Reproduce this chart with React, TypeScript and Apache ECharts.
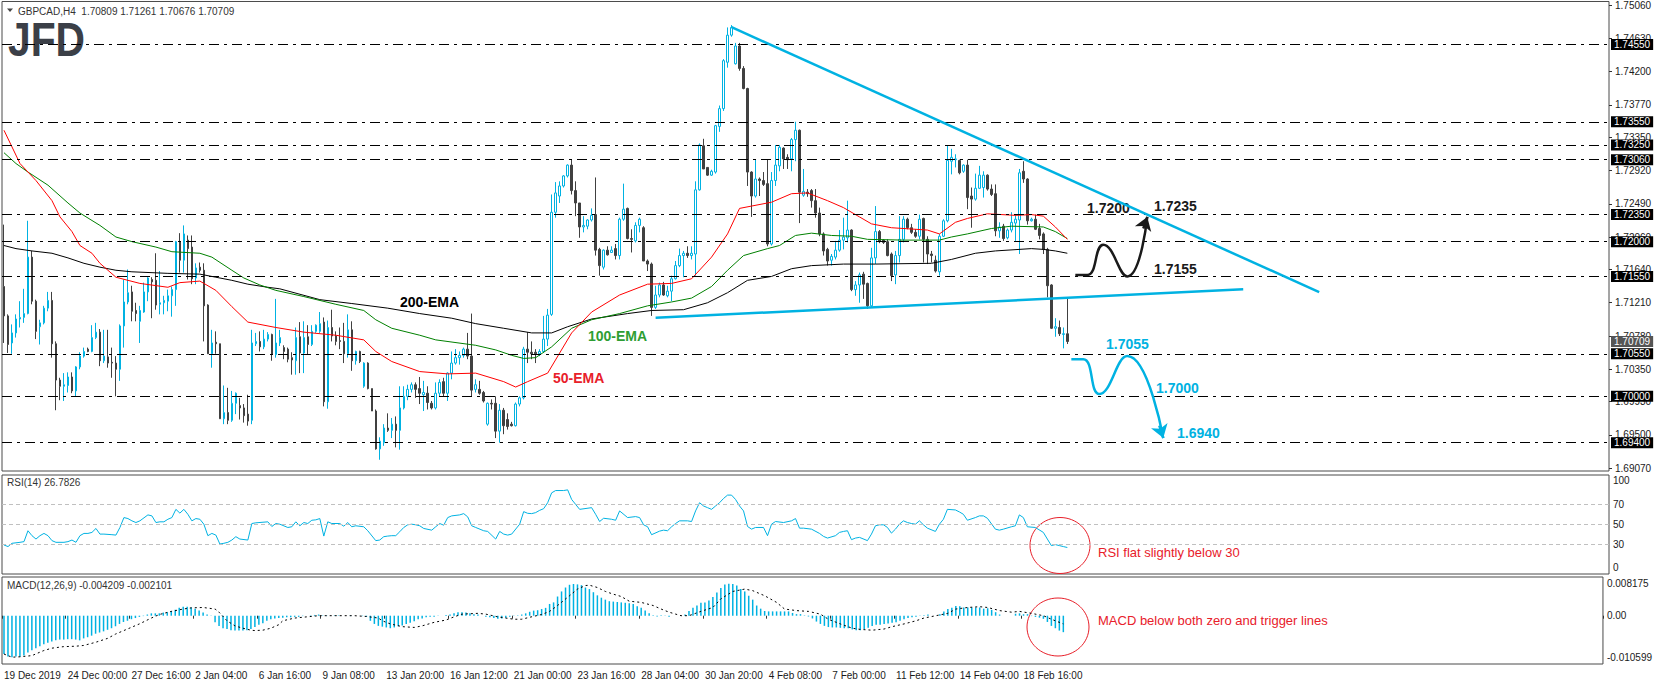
import React, { useEffect, useRef } from 'react';
import * as echarts from 'echarts';

const FONT = '"Liberation Sans", Arial, sans-serif';
const CYAN = '#00b2e2';
const DARK = '#404040';

// ---------- data ----------
const xTickLabels = ['19 Dec 2019', '24 Dec 00:00', '27 Dec 16:00', '2 Jan 04:00', '6 Jan 16:00', '9 Jan 08:00',
  '13 Jan 20:00', '16 Jan 12:00', '21 Jan 00:00', '23 Jan 16:00', '28 Jan 04:00', '30 Jan 20:00', '4 Feb 08:00',
  '7 Feb 00:00', '11 Feb 12:00', '14 Feb 04:00', '18 Feb 16:00'];
const barsPerLabel = 16;
const slotCount = 402;

// [open, close, low, high]
const candles = [
  [1.7142,1.7104,1.7069,1.7222],[1.7104,1.7067,1.7056,1.7106],[1.7069,1.7082,1.7055,1.7093],[1.7082,1.7100,1.7076,1.7106],
  [1.7100,1.7102,1.7089,1.7123],[1.7102,1.7107,1.7095,1.7139],[1.7107,1.7180,1.7106,1.7227],[1.7180,1.7123,1.7119,1.7188],
  [1.7123,1.7084,1.7074,1.7125],[1.7090,1.7095,1.7067,1.7099],[1.7095,1.7114,1.7093,1.7117],[1.7114,1.7124,1.7110,1.7135],
  [1.7124,1.7068,1.7050,1.7135],[1.7068,1.7021,1.6982,1.7071],[1.7021,1.7013,1.6995,1.7024],[1.7013,1.7015,1.6994,1.7030],
  [1.7014,1.7025,1.7005,1.7031],[1.7025,1.7007,1.7004,1.7031],[1.7007,1.7038,1.7000,1.7039],[1.7038,1.7052,1.7035,1.7057],
  [1.7052,1.7058,1.7050,1.7063],[1.7061,1.7058,1.7057,1.7063],[1.7058,1.7076,1.7057,1.7092],[1.7076,1.7083,1.7074,1.7095],
  [1.7083,1.7046,1.7039,1.7087],[1.7046,1.7052,1.7043,1.7086],[1.7051,1.7043,1.7037,1.7086],[1.7044,1.7043,1.7024,1.7063],
  [1.7043,1.7035,1.7000,1.7052],[1.7035,1.7091,1.7020,1.7093],[1.7091,1.7122,1.7063,1.7151],[1.7122,1.7134,1.7119,1.7164],
  [1.7135,1.7110,1.7097,1.7143],[1.7111,1.7107,1.7097,1.7121],[1.7097,1.7111,1.7069,1.7117],[1.7109,1.7135,1.7108,1.7147],
  [1.7135,1.7153,1.7123,1.7154],[1.7151,1.7148,1.7101,1.7154],[1.7150,1.7118,1.7112,1.7185],[1.7119,1.7121,1.7106,1.7162],
  [1.7121,1.7124,1.7106,1.7130],[1.7123,1.7130,1.7110,1.7138],[1.7130,1.7138,1.7103,1.7142],[1.7138,1.7200,1.7117,1.7201],
  [1.7200,1.7176,1.7160,1.7211],[1.7176,1.7210,1.7160,1.7221],[1.7202,1.7191,1.7151,1.7208],[1.7193,1.7152,1.7145,1.7208],
  [1.7153,1.7166,1.7145,1.7172],[1.7167,1.7163,1.7160,1.7173],[1.7163,1.7117,1.7071,1.7172],[1.7118,1.7055,1.7055,1.7119],
  [1.7055,1.7069,1.7037,1.7086],[1.7070,1.7068,1.7055,1.7084],[1.7068,1.6971,1.6971,1.7068],[1.6971,1.6979,1.6964,1.7014],
  [1.6979,1.6969,1.6964,1.7011],[1.6969,1.6991,1.6967,1.7007],[1.6991,1.7004,1.6977,1.7005],[1.6988,1.6985,1.6970,1.6998],
  [1.6985,1.6975,1.6966,1.6990],[1.6977,1.6968,1.6962,1.7002],[1.6969,1.7069,1.6964,1.7086],[1.7068,1.7071,1.7065,1.7082],
  [1.7071,1.7064,1.7058,1.7084],[1.7064,1.7074,1.7061,1.7086],[1.7074,1.7080,1.7071,1.7083],[1.7080,1.7054,1.7046,1.7081],
  [1.7054,1.7069,1.7050,1.7126],[1.7069,1.7076,1.7065,1.7086],[1.7063,1.7058,1.7048,1.7066],[1.7061,1.7048,1.7044,1.7063],
  [1.7050,1.7047,1.7028,1.7057],[1.7046,1.7076,1.7028,1.7089],[1.7077,1.7056,1.7030,1.7096],[1.7056,1.7076,1.7030,1.7097],
  [1.7077,1.7067,1.7054,1.7092],[1.7067,1.7084,1.7065,1.7092],[1.7084,1.7092,1.7082,1.7093],[1.7084,1.7094,1.7082,1.7109],
  [1.7096,1.6993,1.6987,1.7102],[1.6993,1.7089,1.6984,1.7098],[1.7089,1.7078,1.7071,1.7112],[1.7078,1.7071,1.7066,1.7084],
  [1.7072,1.7071,1.7061,1.7089],[1.7071,1.7055,1.7043,1.7095],[1.7055,1.7086,1.7050,1.7106],[1.7086,1.7046,1.7033,1.7097],
  [1.7046,1.7058,1.7041,1.7059],[1.7058,1.7045,1.7043,1.7059],[1.7013,1.7043,1.7011,1.7044],[1.7043,1.7010,1.7009,1.7044],
  [1.7010,1.6981,1.6981,1.7010],[1.6981,1.6932,1.6931,1.6983],[1.6932,1.6942,1.6918,1.6947],[1.6940,1.6959,1.6936,1.6964],
  [1.6959,1.6956,1.6954,1.6978],[1.6956,1.6964,1.6946,1.6972],[1.6964,1.6956,1.6934,1.6974],[1.6956,1.6985,1.6931,1.7013],
  [1.6985,1.7000,1.6983,1.7013],[1.7000,1.7009,1.6995,1.7015],[1.7009,1.7015,1.7005,1.7018],[1.7015,1.7009,1.6998,1.7018],
  [1.7010,1.7004,1.6990,1.7025],[1.7002,1.7005,1.6981,1.7020],[1.7004,1.6992,1.6983,1.7013],[1.6991,1.6985,1.6983,1.6994],
  [1.6985,1.7004,1.6983,1.7018],[1.7004,1.7018,1.7000,1.7022],[1.7019,1.7004,1.7000,1.7024],[1.7004,1.7030,1.6994,1.7031],
  [1.7030,1.7043,1.7022,1.7058],[1.7043,1.7050,1.7041,1.7061],[1.7050,1.7053,1.7041,1.7058],[1.7053,1.7061,1.7050,1.7063],
  [1.7061,1.7052,1.7048,1.7082],[1.7052,1.7008,1.7000,1.7107],[1.7009,1.7015,1.7005,1.7022],[1.7009,1.7004,1.7002,1.7020],
  [1.7005,1.6994,1.6992,1.7007],[1.6964,1.6991,1.6962,1.6992],[1.6991,1.6990,1.6983,1.6996],[1.6991,1.6955,1.6946,1.7000],
  [1.6955,1.6982,1.6940,1.6990],[1.6982,1.6962,1.6951,1.6985],[1.6970,1.6961,1.6957,1.6978],[1.6964,1.6962,1.6961,1.6967],
  [1.6962,1.6990,1.6961,1.6992],[1.6990,1.6998,1.6987,1.7000],[1.6998,1.7061,1.6996,1.7064],[1.7061,1.7057,1.7043,1.7083],
  [1.7057,1.7055,1.7048,1.7071],[1.7057,1.7055,1.7043,1.7061],[1.7055,1.7058,1.7052,1.7061],[1.7058,1.7074,1.7056,1.7104],
  [1.7074,1.7105,1.7065,1.7113],[1.7106,1.7238,1.7104,1.7261],[1.7238,1.7263,1.7231,1.7277],[1.7259,1.7272,1.7250,1.7278],
  [1.7272,1.7285,1.7270,1.7286],[1.7285,1.7299,1.7283,1.7300],[1.7299,1.7266,1.7261,1.7306],[1.7266,1.7250,1.7233,1.7278],
  [1.7250,1.7219,1.7205,1.7250],[1.7219,1.7221,1.7212,1.7233],[1.7220,1.7228,1.7216,1.7229],[1.7228,1.7234,1.7226,1.7243],
  [1.7235,1.7189,1.7182,1.7283],[1.7190,1.7169,1.7156,1.7192],[1.7167,1.7189,1.7164,1.7190],[1.7189,1.7183,1.7182,1.7194],
  [1.7186,1.7189,1.7186,1.7194],[1.7191,1.7182,1.7177,1.7197],[1.7182,1.7229,1.7177,1.7231],[1.7229,1.7242,1.7227,1.7275],
  [1.7243,1.7204,1.7203,1.7244],[1.7204,1.7203,1.7186,1.7216],[1.7201,1.7221,1.7199,1.7225],[1.7221,1.7229,1.7212,1.7231],
  [1.7218,1.7175,1.7175,1.7220],[1.7175,1.7171,1.7162,1.7177],[1.7171,1.7115,1.7104,1.7173],[1.7115,1.7131,1.7113,1.7143],
  [1.7131,1.7144,1.7128,1.7147],[1.7144,1.7131,1.7130,1.7148],[1.7130,1.7136,1.7128,1.7143],[1.7136,1.7152,1.7123,1.7156],
  [1.7152,1.7169,1.7151,1.7175],[1.7169,1.7182,1.7167,1.7191],[1.7182,1.7185,1.7154,1.7188],[1.7185,1.7182,1.7179,1.7194],
  [1.7182,1.7185,1.7177,1.7194],[1.7184,1.7267,1.7156,1.7278],[1.7267,1.7325,1.7266,1.7327],[1.7324,1.7294,1.7294,1.7333],
  [1.7296,1.7286,1.7285,1.7296],[1.7286,1.7291,1.7285,1.7293],[1.7290,1.7350,1.7288,1.7351],[1.7349,1.7372,1.7342,1.7376],
  [1.7372,1.7434,1.7369,1.7436],[1.7432,1.7467,1.7425,1.7477],[1.7467,1.7477,1.7465,1.7480],[1.7430,1.7453,1.7429,1.7457],
  [1.7453,1.7424,1.7421,1.7457],[1.7424,1.7398,1.7397,1.7427],[1.7398,1.7290,1.7272,1.7399],[1.7290,1.7259,1.7232,1.7291],
  [1.7259,1.7281,1.7257,1.7306],[1.7281,1.7279,1.7259,1.7283],[1.7279,1.7274,1.7272,1.7290],[1.7275,1.7197,1.7194,1.7306],
  [1.7197,1.7279,1.7195,1.7290],[1.7279,1.7299,1.7272,1.7325],[1.7298,1.7322,1.7291,1.7325],[1.7321,1.7307,1.7294,1.7322],
  [1.7309,1.7306,1.7294,1.7313],[1.7307,1.7332,1.7291,1.7334],[1.7332,1.7344,1.7304,1.7355],[1.7344,1.7264,1.7224,1.7345],
  [1.7260,1.7265,1.7258,1.7294],[1.7264,1.7262,1.7258,1.7268],[1.7266,1.7253,1.7244,1.7268],[1.7253,1.7237,1.7231,1.7268],
  [1.7237,1.7210,1.7207,1.7244],[1.7210,1.7188,1.7182,1.7212],[1.7190,1.7175,1.7169,1.7192],[1.7176,1.7181,1.7169,1.7184],
  [1.7180,1.7189,1.7177,1.7201],[1.7189,1.7202,1.7187,1.7215],[1.7202,1.7206,1.7190,1.7231],[1.7205,1.7215,1.7199,1.7253],
  [1.7215,1.7138,1.7136,1.7216],[1.7138,1.7144,1.7130,1.7149],[1.7144,1.7157,1.7121,1.7160],[1.7158,1.7145,1.7126,1.7161],
  [1.7146,1.7117,1.7113,1.7147],[1.7117,1.7179,1.7115,1.7192],[1.7179,1.7213,1.7171,1.7246],[1.7213,1.7200,1.7198,1.7215],
  [1.7202,1.7199,1.7197,1.7203],[1.7200,1.7182,1.7181,1.7203],[1.7184,1.7156,1.7149,1.7186],[1.7157,1.7182,1.7145,1.7188],
  [1.7182,1.7203,1.7173,1.7233],[1.7203,1.7229,1.7199,1.7233],[1.7229,1.7218,1.7216,1.7231],[1.7218,1.7212,1.7210,1.7223],
  [1.7212,1.7207,1.7205,1.7216],[1.7207,1.7229,1.7203,1.7235],[1.7230,1.7203,1.7173,1.7231],[1.7203,1.7184,1.7171,1.7207],
  [1.7184,1.7182,1.7173,1.7188],[1.7176,1.7162,1.7160,1.7182],[1.7161,1.7207,1.7156,1.7210],[1.7207,1.7227,1.7206,1.7229],
  [1.7227,1.7305,1.7225,1.7324],[1.7304,1.7309,1.7287,1.7320],[1.7306,1.7307,1.7296,1.7313],[1.7305,1.7289,1.7287,1.7306],
  [1.7291,1.7299,1.7289,1.7300],[1.7299,1.7257,1.7242,1.7306],[1.7259,1.7255,1.7218,1.7270],[1.7255,1.7269,1.7253,1.7288],
  [1.7269,1.7286,1.7268,1.7298],[1.7270,1.7286,1.7257,1.7291],[1.7286,1.7268,1.7266,1.7287],[1.7268,1.7261,1.7259,1.7274],
  [1.7262,1.7214,1.7207,1.7274],[1.7214,1.7219,1.7205,1.7225],[1.7220,1.7204,1.7201,1.7223],[1.7205,1.7215,1.7203,1.7217],
  [1.7215,1.7225,1.7212,1.7238],[1.7224,1.7229,1.7201,1.7235],[1.7228,1.7289,1.7184,1.7294],[1.7291,1.7281,1.7276,1.7304],
  [1.7281,1.7227,1.7222,1.7282],[1.7227,1.7229,1.7226,1.7231],[1.7229,1.7216,1.7215,1.7235],[1.7217,1.7208,1.7203,1.7223],
  [1.7210,1.7190,1.7184,1.7212],[1.7190,1.7143,1.7128,1.7192],[1.7144,1.7088,1.7087,1.7145],[1.7088,1.7090,1.7077,1.7101],
  [1.7089,1.7081,1.7078,1.7098],[1.7080,1.7081,1.7062,1.7089],[1.70809,1.70709,1.70676,1.71261],
];

// [bar, value]
const ema50 = [[0,1.7344],[4,1.7301],[8,1.7279],[12,1.7253],[14,1.7232],[17,1.7213],[19,1.7195],[22,1.7185],[24,1.7172],
  [28,1.7154],[34,1.7146],[41,1.7141],[44,1.7147],[49,1.7149],[53,1.7137],[57,1.7116],[61,1.7096],[68,1.7089],[75,1.7083],
  [83,1.7079],[90,1.7073],[93,1.7058],[97,1.7045],[104,1.7032],[111,1.7029],[118,1.7030],[125,1.7019],[128,1.7012],
  [131,1.7019],[136,1.7030],[142,1.7082],[147,1.7109],[154,1.7131],[161,1.7145],[167,1.7146],[172,1.7152],[177,1.7180],
  [181,1.7210],[184,1.7243],[187,1.7246],[192,1.7251],[197,1.7262],[201,1.7263],[206,1.7253],[210,1.7244],[214,1.7232],
  [217,1.7223],[222,1.7218],[231,1.7215],[234,1.7210],[238,1.7225],[241,1.7230],[246,1.7236],[253,1.7234],[257,1.7235],
  [260,1.7233],[263,1.7219],[266,1.7203]];
const ema100 = [[0,1.7315],[3,1.7301],[6,1.7290],[11,1.7273],[16,1.7250],[19,1.7237],[24,1.7221],[28,1.7206],[32,1.7200],
  [38,1.7193],[42,1.7187],[49,1.7185],[52,1.7180],[57,1.7163],[60,1.7153],[64,1.7144],[68,1.7137],[75,1.7129],[83,1.7119],
  [90,1.7111],[93,1.7099],[97,1.7088],[104,1.7079],[108,1.7073],[118,1.7066],[123,1.7060],[127,1.7053],[130,1.7049],
  [133,1.7050],[137,1.7064],[142,1.7088],[147,1.7099],[154,1.7107],[161,1.7117],[167,1.7122],[172,1.7127],[177,1.7142],
  [181,1.7163],[185,1.7182],[191,1.7191],[194,1.7195],[198,1.7208],[202,1.7211],[207,1.7208],[212,1.7207],[216,1.7203],
  [225,1.7202],[234,1.7202],[237,1.7206],[241,1.7210],[247,1.7217],[252,1.7220],[260,1.7219],[263,1.7213],[266,1.7204]];
const ema200 = [[0,1.7195],[3,1.7191],[7,1.7188],[12,1.7185],[16,1.7179],[20,1.7172],[24,1.7167],[28,1.7163],[32,1.7161],
  [41,1.7159],[49,1.7158],[53,1.7154],[57,1.7150],[61,1.7145],[66,1.7141],[69,1.7139],[79,1.7125],[87,1.7120],[96,1.7114],
  [104,1.7107],[112,1.7101],[118,1.7094],[125,1.7088],[132,1.7082],[137,1.7082],[141,1.7090],[147,1.7100],[156,1.7107],
  [162,1.7111],[170,1.7112],[176,1.7121],[181,1.7134],[186,1.7150],[192,1.7155],[197,1.7165],[202,1.7169],[210,1.7171],
  [218,1.7171],[232,1.7172],[237,1.7177],[243,1.7185],[248,1.7188],[257,1.7191],[260,1.7190],[263,1.7188],[266,1.7185]];

const rsi = [[0,29.3],[1,27.7],[2,31.0],[4,32.0],[5,32.7],[6,43.7],[7,38.7],[8,35.3],[9,38.7],[10,41.0],[11,38.7],[12,33.7],
  [13,32.0],[15,32.0],[16,32.7],[17,34.3],[18,32.0],[19,38.7],[20,41.0],[21,41.0],[22,42.0],[23,46.0],[24,40.3],[25,40.3],
  [27,39.7],[28,39.3],[29,47.0],[30,57.0],[31,56.0],[32,53.7],[33,52.0],[34,53.7],[36,59.7],[37,58.7],[38,52.0],[39,52.7],
  [40,52.7],[41,55.3],[42,57.0],[43,65.3],[44,61.5],[45,65.3],[46,60.3],[47,53.7],[48,56.0],[49,55.3],[50,50.3],[51,38.7],
  [52,41.0],[53,39.3],[54,30.3],[55,31.0],[56,32.0],[57,34.3],[58,37.7],[59,35.3],[61,34.3],[62,51.0],[63,51.7],[66,52.7],
  [67,48.0],[68,51.0],[69,50.3],[71,47.0],[72,47.7],[73,52.7],[74,48.7],[75,52.0],[76,51.0],[77,54.3],[78,54.7],[79,56.0],
  [80,38.3],[81,52.7],[82,51.0],[84,51.0],[85,48.3],[86,52.0],[87,47.7],[88,48.7],[90,47.7],[91,43.7],[93,33.7],[94,34.3],
  [95,37.7],[96,38.3],[97,38.7],[98,38.7],[99,42.7],[100,47.0],[101,49.7],[102,50.3],[103,49.7],[104,48.7],[105,46.0],
  [107,44.3],[108,47.7],[109,51.0],[110,49.3],[111,57.0],[112,58.7],[114,59.7],[115,61.0],[116,57.7],[117,48.7],[118,47.0],
  [120,43.7],[121,43.0],[123,35.3],[124,43.0],[125,40.3],[126,39.3],[127,40.3],[129,50.3],[130,63.0],[131,61.3],[132,61.0],
  [133,62.0],[134,64.3],[135,66.0],[136,72.0],[137,82.0],[138,84.3],[140,84.3],[141,85.0],[142,75.3],[143,70.3],[144,65.3],
  [147,67.0],[148,60.3],[149,53.0],[150,56.3],[152,55.3],[153,54.3],[154,63.7],[156,57.0],[158,58.0],[159,57.0],[160,49.7],
  [161,47.7],[162,39.7],[164,43.3],[165,44.3],[166,43.7],[167,47.7],[168,51.0],[169,53.7],[171,53.7],[172,53.0],[173,63.7],
  [174,72.0],[175,68.7],[176,67.0],[177,65.3],[178,68.7],[179,72.0],[180,76.3],[181,79.7],[182,79.7],[183,75.3],[184,68.7],
  [185,63.7],[186,48.0],[187,45.3],[188,47.0],[190,47.0],[191,38.7],[192,50.3],[193,53.0],[195,52.0],[197,53.7],[198,56.0],
  [199,46.3],[200,46.3],[202,45.3],[204,41.0],[205,38.0],[206,36.3],[208,38.7],[209,42.0],[210,43.0],[211,43.7],[212,34.7],
  [213,36.3],[214,37.0],[216,33.7],[217,40.3],[218,48.7],[219,49.7],[220,49.7],[221,47.0],[222,41.3],[223,45.3],[224,50.3],
  [225,53.7],[226,52.0],[227,51.0],[228,50.3],[229,53.7],[230,49.7],[231,46.3],[233,43.0],[234,50.3],[235,55.3],[236,65.3],
  [238,64.7],[239,62.7],[240,60.3],[241,54.3],[243,57.0],[244,58.7],[245,58.7],[246,56.3],[248,45.3],[249,44.3],[250,45.3],
  [252,47.7],[253,48.7],[254,59.7],[255,57.0],[256,47.7],[258,47.0],[260,42.0],[261,35.3],[262,28.7],[263,29.7],[264,28.7],
  [265,27.7],[266,26.7826]];

const macdHist = [
  -0.0098,-0.0104,-0.010599,-0.0104,-0.0105,-0.0102,-0.0094,-0.0088,-0.0083,-0.0078,-0.0073,-0.0069,-0.0066,-0.0063,
  -0.0061,-0.0061,-0.0060,-0.0060,-0.0061,-0.0063,-0.0058,-0.0055,-0.0051,-0.0046,-0.0043,-0.0040,-0.0036,-0.0032,
  -0.0027,-0.0021,-0.0016,-0.0013,-0.0009,-0.0006,-0.0003,-0.0001,0.0003,0.0006,0.0006,0.0006,0.0008,0.0009,0.0012,
  0.0015,0.0020,0.0023,0.0023,0.0021,0.0018,0.0013,0.0008,0.0003,-0.0001,-0.0017,-0.0026,-0.0032,-0.0034,-0.0037,
  -0.0038,-0.0038,-0.0038,-0.0037,-0.0034,-0.0029,-0.0023,-0.0019,-0.0013,-0.0009,-0.0007,-0.0006,-0.0005,-0.0004,
  -0.0004,-0.0003,-0.0003,-0.0001,0.0000,0.0001,0.0002,0.0003,0.0001,-0.0001,0.0000,0.0001,0.0001,0.0000,0.0000,
  -0.0001,0.0000,0.0000,-0.0001,-0.0003,-0.0013,-0.0021,-0.0026,-0.0028,-0.0030,-0.0032,-0.0030,-0.0027,-0.0025,
  -0.0021,-0.0018,-0.0014,-0.0009,-0.0007,-0.0004,-0.0003,-0.0003,-0.0001,0.0000,0.0002,0.0003,0.0006,0.0009,0.0009,
  0.0008,0.0006,0.0004,0.0003,0.0000,-0.0003,-0.0004,-0.0006,-0.0008,-0.0007,-0.0005,-0.0003,-0.0001,0.0001,0.0003,
  0.0006,0.0010,0.0013,0.0014,0.0017,0.0020,0.0030,0.0034,0.0049,0.0062,0.0072,0.0079,0.0081,0.0080,0.0078,0.0072,
  0.0068,0.0060,0.0052,0.0046,0.0041,0.0037,0.0036,0.0035,0.0034,0.0033,0.0032,0.0030,0.0024,0.0020,0.0013,0.0006,
  0.0001,-0.0002,0.0001,-0.0001,-0.0003,0.0000,0.0000,0.0000,0.0003,0.0012,0.0020,0.0026,0.0033,0.0034,0.0039,0.0048,
  0.0059,0.0071,0.0080,0.008175,0.0081,0.0077,0.0068,0.0062,0.0051,0.0041,0.0026,0.0018,0.0012,0.0011,0.0011,0.0011,
  0.0011,0.0011,0.0011,0.0007,0.0004,0.0004,0.0001,-0.0002,-0.0007,-0.0015,-0.0021,-0.0026,-0.0029,-0.0030,-0.0030,
  -0.0031,-0.0032,-0.0032,-0.0035,-0.0037,-0.0037,-0.0034,-0.0031,-0.0026,-0.0023,-0.0023,-0.0021,-0.0020,-0.0018,
  -0.0017,-0.0013,-0.0009,-0.0006,-0.0004,-0.0003,-0.0001,0.0001,0.0003,0.0000,0.0000,0.0004,0.0011,0.0017,0.0020,
  0.0025,0.0024,0.0021,0.0021,0.0021,0.0021,0.0021,0.0018,0.0019,0.0015,0.0009,0.0003,0.0000,0.0000,0.0000,0.0005,
  0.0006,0.0004,0.0004,-0.0001,-0.0003,-0.0005,-0.0008,-0.0016,-0.0026,-0.0032,-0.0038,-0.004209,
];
const macdSignal = [[0,-0.0098],[2,-0.0106],[4,-0.0105],[7,-0.0102],[10,-0.0089],[12,-0.0083],[15,-0.0079],[18,-0.0078],
  [20,-0.0076],[23,-0.0068],[26,-0.0058],[28,-0.0047],[31,-0.0034],[34,-0.0021],[37,-0.0006],[39,0.0003],[42,0.0011],
  [45,0.0017],[47,0.0020],[50,0.0021],[53,0.0017],[54,0.0009],[56,-0.0013],[58,-0.0026],[60,-0.0032],[62,-0.0037],
  [63,-0.0038],[65,-0.0037],[67,-0.0032],[69,-0.0023],[70,-0.0013],[73,-0.0006],[76,-0.0003],[79,0.0000],[84,0.0000],
  [88,0.0000],[91,-0.0002],[94,-0.0006],[95,-0.0013],[97,-0.0021],[100,-0.0028],[103,-0.0030],[105,-0.0026],[108,-0.0017],
  [111,-0.0011],[113,-0.0003],[115,0.0004],[119,0.0006],[121,0.0004],[124,-0.0003],[128,-0.0009],[130,-0.0009],
  [132,-0.0004],[135,0.0003],[137,0.0011],[139,0.0026],[142,0.0051],[144,0.0068],[146,0.0077],[147,0.0078],[149,0.0072],
  [151,0.0062],[153,0.0055],[155,0.0049],[157,0.0037],[160,0.0034],[163,0.0026],[165,0.0017],[167,0.0009],[170,0.0000],
  [172,0.0000],[175,0.0011],[178,0.0021],[180,0.0043],[183,0.0062],[186,0.0068],[188,0.0064],[191,0.0051],[194,0.0034],
  [196,0.0017],[199,0.0013],[202,0.0011],[205,0.0004],[207,-0.0009],[210,-0.0021],[213,-0.0032],[215,-0.0035],
  [218,-0.0037],[221,-0.0034],[223,-0.0028],[226,-0.0021],[229,-0.0013],[231,-0.0006],[234,0.0000],[237,0.0006],
  [239,0.0017],[242,0.0021],[245,0.0023],[247,0.0021],[250,0.0013],[253,0.0009],[255,0.0011],[258,0.0006],[261,0.0000],
  [263,-0.0009],[266,-0.002101]];

const levels = [1.7455, 1.7355, 1.7325, 1.7306, 1.7235, 1.7200, 1.7155, 1.7055, 1.7000, 1.6940];
const lastPrice = 1.70709;
const priceTicks = [1.7506, 1.7463, 1.742, 1.7377, 1.7335, 1.7292, 1.7249, 1.7206, 1.7164, 1.7121, 1.7078, 1.7035,
  1.6993, 1.695, 1.6907];
const rsiTicks = [100, 70, 50, 30, 0];
const rsiLevels = [70, 50, 30];
const macdTicks = [0.008175, 0, -0.010599];

const resistanceLine = [[182, 1.74773], [329, 1.71347]];
const necklineLine = [[163, 1.71015], [310, 1.71385]];
const bullPath = [[268, 1.7157], [271, 1.7157], [275, 1.7196], [281, 1.7155], [286, 1.7232]];
const bullArrow = [[285, 1.7217], [286, 1.7232]];
const bearPath = [[267, 1.7048], [270, 1.7048], [274, 1.7003], [281, 1.7052], [290, 1.6946]];
const bearArrow = [[289, 1.6962], [290, 1.6946]];

// ---------- component ----------
export default function App() {
  const ref = useRef<HTMLDivElement>(null);

  useEffect(() => {
    if (!ref.current) return;
    const chart = echarts.init(ref.current, undefined, { renderer: 'svg' });
    const categories = Array.from({ length: slotCount }, (_, i) => 'b' + i);
    const isLabelSlot = (i: number) => i % barsPerLabel === 0 && i / barsPerLabel < xTickLabels.length;
    const small = { fontFamily: FONT, fontSize: 10, color: '#1a1a1a' };
    const gridBase = { left: 2, width: 1607, show: true, borderColor: '#4a4a4a', borderWidth: 1, backgroundColor: 'transparent' };

    const xAxisBase = (gi: number, showLabels: boolean) => ({
      type: 'category', gridIndex: gi, data: categories, boundaryGap: true,
      axisLine: { show: false },
      axisTick: { show: showLabels, interval: (i: number) => isLabelSlot(i), length: 3, lineStyle: { color: '#333' } },
      axisLabel: {
        show: showLabels, interval: (i: number) => isLabelSlot(i), align: 'left', margin: 6, ...small,
        formatter: (_v: string, i: number) => (isLabelSlot(i) ? xTickLabels[i / barsPerLabel] : ''),
      },
      splitLine: { show: false },
    });

    const dashDot = [10, 5, 3, 5];

    const option: any = {
      animation: false,
      backgroundColor: '#ffffff',
      grid: [
        { ...gridBase, top: 1, height: 470 },
        { ...gridBase, top: 475, height: 99 },
        { ...gridBase, top: 577, height: 87 },
      ],
      xAxis: [xAxisBase(0, false), xAxisBase(1, false), xAxisBase(2, true)],
      yAxis: [
        {
          type: 'value', gridIndex: 0, position: 'right', min: 1.690344, max: 1.751054,
          splitLine: { show: false }, axisLine: { show: false },
          axisTick: { show: true, customValues: priceTicks, length: 3, lineStyle: { color: '#333' } },
          axisLabel: { customValues: priceTicks, margin: 6, ...small, formatter: (v: number) => v.toFixed(5) },
        },
        {
          type: 'value', gridIndex: 1, position: 'right', min: 0, max: 100,
          splitLine: { show: false }, axisLine: { show: false }, axisTick: { show: false },
          axisLabel: {
            customValues: rsiTicks, margin: 4, ...small,
            formatter: (v: number) => (v === 100 ? '{t|100}' : v === 0 ? '{b|0}' : String(v)),
            rich: { t: { padding: [10, 0, 0, 0], ...small }, b: { padding: [0, 0, 13, 0], ...small } },
          },
        },
        {
          type: 'value', gridIndex: 2, position: 'right', min: -0.01234, max: 0.009887,
          splitLine: { show: false }, axisLine: { show: false }, axisTick: { show: false },
          axisLabel: { customValues: macdTicks, margin: 4, ...small, formatter: (v: number) => (v === 0 ? '0.00' : v.toFixed(6)) },
        },
      ],
      series: [
        {
          type: 'candlestick', xAxisIndex: 0, yAxisIndex: 0, data: candles, barWidth: 2,
          itemStyle: { color: '#ffffff', color0: DARK, borderColor: CYAN, borderColor0: DARK, borderWidth: 1 },
          z: 3,
          markLine: {
            silent: true, symbol: ['none', 'none'], animation: false, precision: 5,
            lineStyle: { color: '#000', width: 1, type: dashDot },
            label: {
              show: true, position: 'end', distance: 2, formatter: (p: any) => Number(p.value).toFixed(5),
              backgroundColor: '#000', color: '#fff', fontFamily: FONT, fontSize: 10, padding: [1, 3, 0, 3],
            },
            data: [
              ...levels.map((v) => ({ yAxis: v })),
              { yAxis: lastPrice, lineStyle: { color: 'rgba(0,0,0,0)' }, label: { backgroundColor: '#555' } },
            ],
          },
        },
        { type: 'line', xAxisIndex: 0, yAxisIndex: 0, data: ema200, symbol: 'none', lineStyle: { color: '#000', width: 1 }, z: 4 },
        { type: 'line', xAxisIndex: 0, yAxisIndex: 0, data: ema100, symbol: 'none', lineStyle: { color: '#008000', width: 1 }, z: 4 },
        { type: 'line', xAxisIndex: 0, yAxisIndex: 0, data: ema50, symbol: 'none', lineStyle: { color: '#ff0000', width: 1 }, z: 4 },
        { type: 'line', xAxisIndex: 0, yAxisIndex: 0, data: resistanceLine, symbol: 'none', lineStyle: { color: CYAN, width: 2.5 }, z: 5 },
        { type: 'line', xAxisIndex: 0, yAxisIndex: 0, data: necklineLine, symbol: 'none', lineStyle: { color: CYAN, width: 2.5 }, z: 5 },
        {
          type: 'line', xAxisIndex: 0, yAxisIndex: 0, data: bullPath, symbol: 'none', smooth: 0.5,
          lineStyle: { color: '#1a1a1a', width: 2.5 }, z: 5,
          markLine: {
            silent: true, symbol: ['none', 'arrow'], symbolSize: 13, label: { show: false }, precision: 5,
            lineStyle: { color: '#1a1a1a', width: 2.5, type: 'solid' },
            data: [[{ coord: bullArrow[0] }, { coord: bullArrow[1] }]],
          },
        },
        {
          type: 'line', xAxisIndex: 0, yAxisIndex: 0, data: bearPath, symbol: 'none', smooth: 0.5,
          lineStyle: { color: CYAN, width: 2.5 }, z: 5,
          markLine: {
            silent: true, symbol: ['none', 'arrow'], symbolSize: 13, label: { show: false }, precision: 5,
            lineStyle: { color: CYAN, width: 2.5, type: 'solid' },
            data: [[{ coord: bearArrow[0] }, { coord: bearArrow[1] }]],
          },
        },
        {
          type: 'line', xAxisIndex: 1, yAxisIndex: 1, data: rsi, symbol: 'none', lineStyle: { color: CYAN, width: 1 },
          markLine: {
            silent: true, symbol: ['none', 'none'], label: { show: false },
            lineStyle: { color: '#c0c0c0', width: 1, type: [4, 3] },
            data: rsiLevels.map((v) => ({ yAxis: v })),
          },
        },
        { type: 'bar', xAxisIndex: 2, yAxisIndex: 2, data: macdHist, barWidth: 1.5, itemStyle: { color: CYAN } },
        { type: 'line', xAxisIndex: 2, yAxisIndex: 2, data: macdSignal, symbol: 'none', lineStyle: { color: '#000', width: 1, type: [2, 3] }, z: 4 },
      ],
      graphic: [
        { type: 'polygon', shape: { points: [[7, 8.5], [13, 8.5], [10, 12]] }, style: { fill: '#444' } },
        { type: 'text', x: 18, y: 11, style: { text: 'GBPCAD,H4  1.70809 1.71261 1.70676 1.70709', fill: '#333', font: `10px ${FONT}`, textVerticalAlign: 'middle' } },
        { type: 'text', x: 8, y: 39, scaleX: 0.85, style: { text: 'JFD', fill: '#3b3f47', font: `bold 48px ${FONT}`, textVerticalAlign: 'middle' } },
        { type: 'text', x: 400, y: 302, style: { text: '200-EMA', fill: '#000', font: `bold 14px ${FONT}`, textVerticalAlign: 'middle' } },
        { type: 'text', x: 588, y: 336, style: { text: '100-EMA', fill: '#2e9e33', font: `bold 14px ${FONT}`, textVerticalAlign: 'middle' } },
        { type: 'text', x: 553, y: 378, style: { text: '50-EMA', fill: '#e8202a', font: `bold 14px ${FONT}`, textVerticalAlign: 'middle' } },
        { type: 'text', x: 1154, y: 206, style: { text: '1.7235', fill: '#1a1a1a', font: `bold 14px ${FONT}`, textVerticalAlign: 'middle' } },
        { type: 'text', x: 1087, y: 208, style: { text: '1.7200', fill: '#1a1a1a', font: `bold 14px ${FONT}`, textVerticalAlign: 'middle' } },
        { type: 'text', x: 1154, y: 269, style: { text: '1.7155', fill: '#1a1a1a', font: `bold 14px ${FONT}`, textVerticalAlign: 'middle' } },
        { type: 'text', x: 1106, y: 344, style: { text: '1.7055', fill: CYAN, font: `bold 14px ${FONT}`, textVerticalAlign: 'middle' } },
        { type: 'text', x: 1156, y: 388, style: { text: '1.7000', fill: CYAN, font: `bold 14px ${FONT}`, textVerticalAlign: 'middle' } },
        { type: 'text', x: 1177, y: 433, style: { text: '1.6940', fill: CYAN, font: `bold 14px ${FONT}`, textVerticalAlign: 'middle' } },
        { type: 'text', x: 7, y: 482, style: { text: 'RSI(14) 26.7826', fill: '#333', font: `10px ${FONT}`, textVerticalAlign: 'middle' } },
        { type: 'text', x: 7, y: 585, style: { text: 'MACD(12,26,9) -0.004209 -0.002101', fill: '#333', font: `10px ${FONT}`, textVerticalAlign: 'middle' } },
        { type: 'ellipse', shape: { cx: 1060, cy: 545.5, rx: 30, ry: 28 }, style: { fill: 'none', stroke: '#e8202a', lineWidth: 1 } },
        { type: 'ellipse', shape: { cx: 1058, cy: 627, rx: 31, ry: 29 }, style: { fill: 'none', stroke: '#e8202a', lineWidth: 1 } },
        { type: 'text', x: 1098, y: 552, style: { text: 'RSI flat slightly below 30', fill: '#e8202a', font: `13px ${FONT}`, textVerticalAlign: 'middle' } },
        { type: 'text', x: 1098, y: 620, style: { text: 'MACD below both zero and trigger lines', fill: '#e8202a', font: `13px ${FONT}`, textVerticalAlign: 'middle' } },
      ],
    };

    chart.setOption(option);
    return () => chart.dispose();
  }, []);

  return (
    <div
      ref={ref}
      style={{ position: 'absolute', left: 0, top: 0, width: 1655, height: 685, background: '#fff' }}
    />
  );
}
